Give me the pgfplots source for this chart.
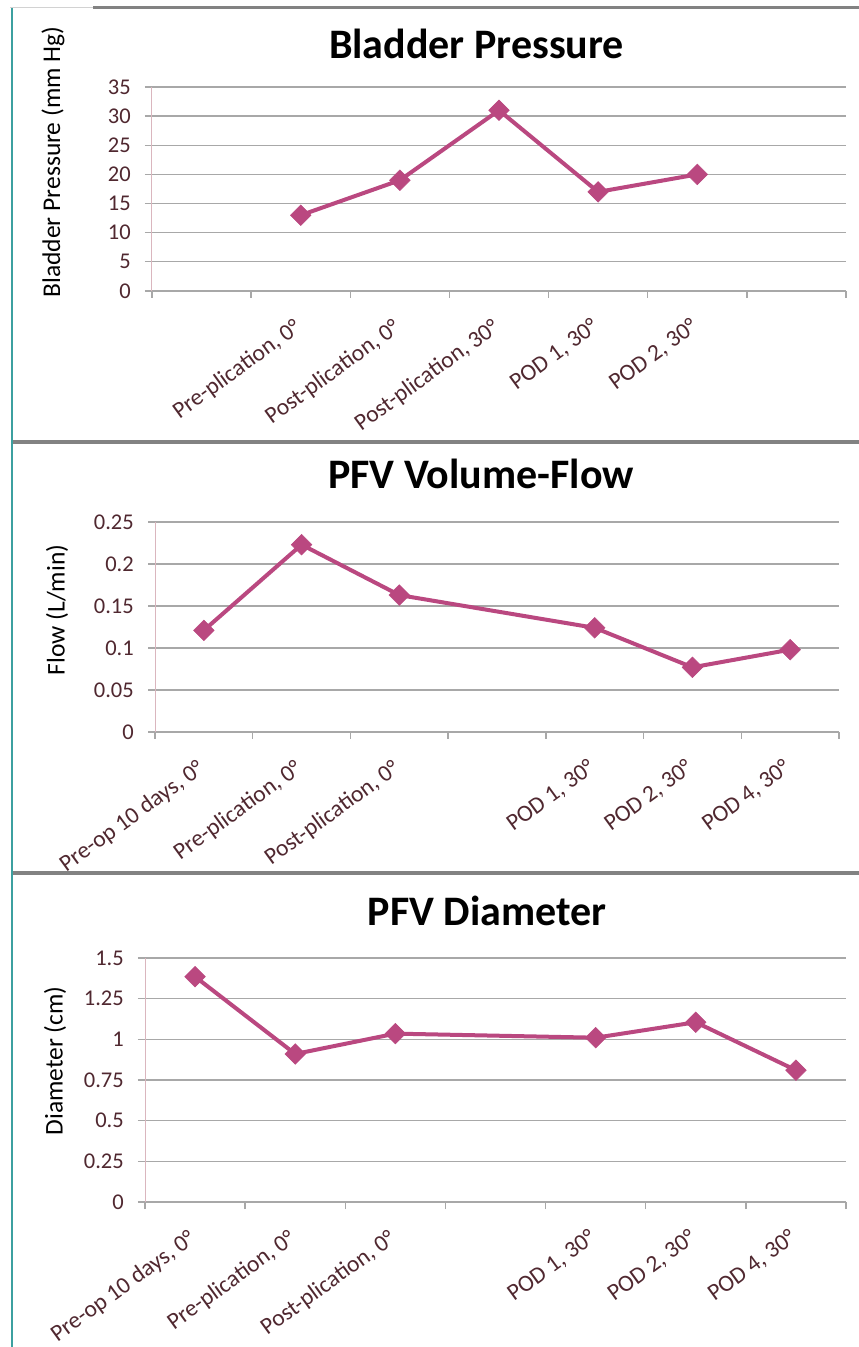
\documentclass[border=0pt]{standalone}
\usepackage{fontspec}
\setmainfont{Carlito}
\usepackage{pgfplots}
\pgfplotsset{compat=1.18}
\definecolor{linec}{RGB}{186,72,128}
\definecolor{gridc}{RGB}{168,168,168}
\definecolor{tickc}{RGB}{80,40,48}
\definecolor{framec}{RGB}{130,130,130}
\definecolor{tealc}{RGB}{60,160,160}
\definecolor{yaxc}{RGB}{218,182,190}
\pgfplotsset{
  panel/.style={
    scale only axis,
    axis lines*=left,
    axis line style={-},
    xmin=-0.5, xmax=6.5,
    xtick={0,...,6},
    minor xtick={-0.5,0.5,...,6.5},
    major x tick style={draw=none},
    tick align=outside,
    major tick length=7pt, minor tick length=7pt,
    ymajorgrids,
    grid style={gridc, line width=1.3pt},
    x axis line style={gridc, line width=1.3pt},
    y axis line style={yaxc, line width=1pt},
    tick style={gridc, line width=1.3pt},
    tick label style={font=\fontsize{22.5}{26}\selectfont, text=tickc},
    xticklabel style={font=\fontsize{23.5}{27}\selectfont, inner sep=0pt, xshift=-8pt, yshift=-19pt, rotate=36, anchor=north east},
    yticklabel style={inner sep=0pt, anchor=east, xshift=-14pt},
    ylabel style={font=\fontsize{25.5}{30}\selectfont, anchor=center, text=black},
    title style={font=\bfseries\fontsize{42}{48}\selectfont, anchor=center},
  },
  ser/.style={linec, line width=4pt, mark=square*, mark size=7.3pt,
    mark options={rotate=45, fill=linec, draw=linec, line width=0.5pt}},
}
\begin{document}
\begin{tikzpicture}
\useasboundingbox (0,0) rectangle (859pt,1347pt);
\fill[white] (0,0) rectangle (859pt,1347pt);
% frame decorations
\draw[gray!35, line width=1pt] (10pt,1339pt) -- (93pt,1339pt);
\draw[framec, line width=3pt] (93pt,1339pt) -- (859pt,1339pt);
\draw[framec, line width=4pt] (12pt,905pt) -- (859pt,905pt);
\draw[framec, line width=4pt] (12pt,474pt) -- (859pt,474pt);
\draw[tealc, line width=2.2pt] (12pt,0pt) -- (12pt,1339pt);

% Panel 1
\begin{axis}[panel, at={(152pt,1056pt)}, anchor=south west, width=694pt, height=204pt,
  ymin=0, ymax=35, ytick={0,5,...,35},
  yticklabels={0,5,10,15,20,25,30,35},
  xticklabels={{}, {Pre-plication, 0°}, {Post-plication, 0°}, {Post-plication, 30°}, {POD 1, 30°}, {POD 2, 30°}, {}},
  ylabel={Bladder Pressure (mm Hg)},
  ylabel style={at={(axis description cs:-0.1427,0.632)}},
  title={Bladder Pressure},
  title style={at={(axis description cs:0.4676,1.181)}},
]
\addplot[ser] coordinates {(1,13) (2,19) (3,31) (4,17) (5,20)};
\end{axis}

% Panel 2
\begin{axis}[panel, at={(155pt,615pt)}, anchor=south west, width=684pt, height=210pt,
  ymin=0, ymax=0.25, ytick={0,0.05,0.1,0.15,0.2,0.25},
  yticklabels={0,0.05,0.1,0.15,0.2,0.25},
  xticklabels={{Pre-op 10 days, 0°}, {Pre-plication, 0°}, {Post-plication, 0°}, {}, {POD 1, 30°}, {POD 2, 30°}, {POD 4, 30°}},
  ylabel={Flow (L/min)},
  ylabel style={at={(axis description cs:-0.1433,0.581)}},
  title={PFV Volume-Flow},
  title style={at={(axis description cs:0.4766,1.2)}},
]
\addplot[ser] coordinates {(0,0.121) (1,0.223) (2,0.163) (4,0.124) (5,0.077) (6,0.098)};
\end{axis}

% Panel 3
\begin{axis}[panel, at={(145pt,145pt)}, anchor=south west, width=701pt, height=244pt,
  ymin=0, ymax=1.5, ytick={0,0.25,0.5,0.75,1,1.25,1.5},
  yticklabels={0,0.25,0.5,0.75,1,1.25,1.5},
  xticklabels={{Pre-op 10 days, 0°}, {Pre-plication, 0°}, {Post-plication, 0°}, {}, {POD 1, 30°}, {POD 2, 30°}, {POD 4, 30°}},
  ylabel={Diameter (cm)},
  ylabel style={at={(axis description cs:-0.1284,0.578)}},
  title={PFV Diameter},
  title style={at={(axis description cs:0.488,1.168)}},
]
\addplot[ser] coordinates {(0,1.385) (1,0.91) (2,1.035) (4,1.01) (5,1.105) (6,0.81)};
\end{axis}
\end{tikzpicture}
\end{document}
